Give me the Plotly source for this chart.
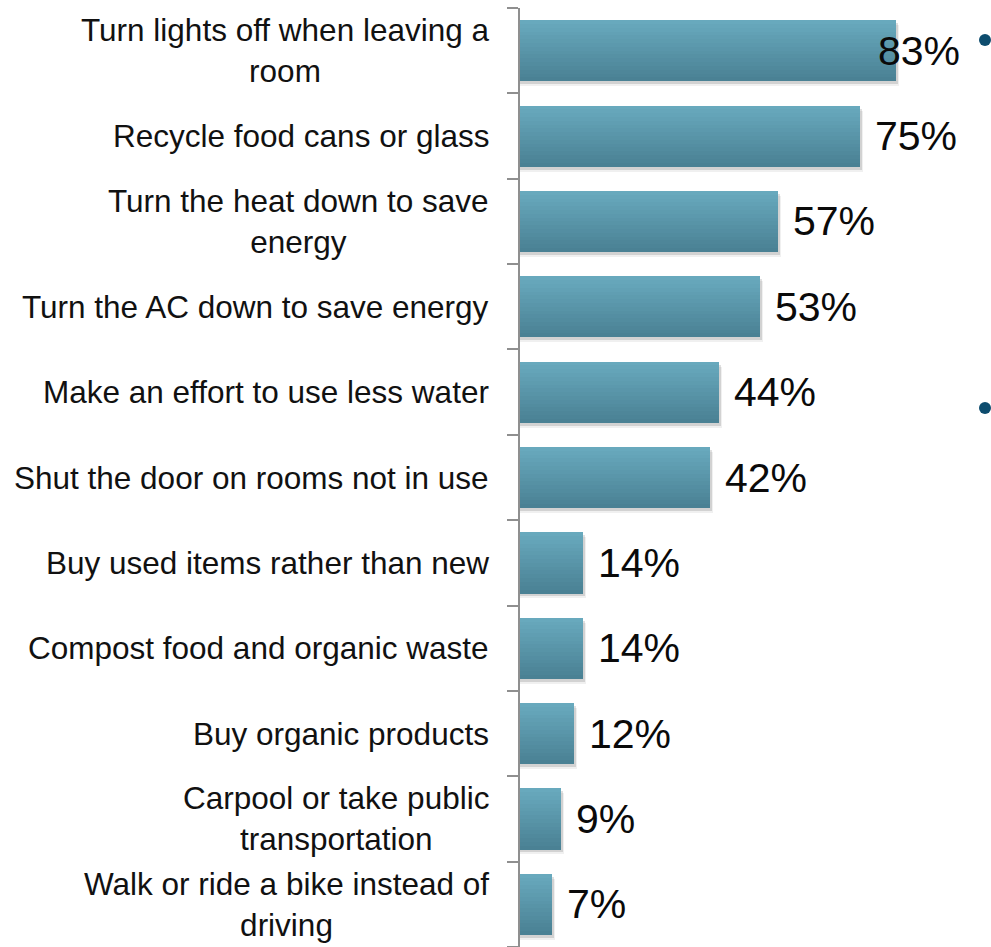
import plotly.graph_objects as go

# Survey: share of respondents doing each conservation behaviour
categories = [
    "Turn lights off when leaving a<br>room",
    "Recycle food cans or glass",
    "Turn the heat down to save<br>energy",
    "Turn the AC down to save energy",
    "Make an effort to use less water",
    "Shut the door on rooms not in use",
    "Buy used items rather than new",
    "Compost food and organic waste",
    "Buy organic products",
    "Carpool or take public<br>transportation",
    "Walk or ride a bike instead of<br>driving",
]
values = [83, 75, 57, 53, 44, 42, 14, 14, 12, 9, 7]
value_labels = [f"{v}%" for v in values]

n = len(categories)
positions = list(range(n))

FONT = "Liberation Sans, Arial, sans-serif"
BAR_WIDTH = 0.714
N_STRIPS = 16
TOP_RGB = (0x68, 0xa9, 0xbd)
BOTTOM_RGB = (0x4a, 0x81, 0x94)
LABEL_CAP = 75.8          # keeps the longest value label inside the chart area
PX_X = 100 / 453          # data units per horizontal pixel
PX_Y = 1 / 85.4           # data units per vertical pixel


def mix(a, b, t):
    return "rgb(%d,%d,%d)" % tuple(round(a[i] + (b[i] - a[i]) * t) for i in range(3))


fig = go.Figure()

# soft drop shadow under each bar
for dy, dx, alpha in [(5, 3, 0.06), (3, 2, 0.12)]:
    fig.add_trace(go.Bar(
        x=[v + dx * PX_X for v in values], y=positions, orientation="h",
        width=BAR_WIDTH, offset=-BAR_WIDTH / 2 + dy * PX_Y,
        marker=dict(color=f"rgba(0,0,0,{alpha})", line=dict(width=0)),
        hoverinfo="skip", showlegend=False,
    ))

# bars drawn as horizontal strips to give a top-to-bottom shading
strip = BAR_WIDTH / N_STRIPS
for k in range(N_STRIPS):
    fig.add_trace(go.Bar(
        x=values, y=positions, orientation="h",
        width=strip * 1.05, offset=-BAR_WIDTH / 2 + k * strip,
        marker=dict(color=mix(TOP_RGB, BOTTOM_RGB, k / (N_STRIPS - 1)), line=dict(width=0)),
        hoverinfo="skip", showlegend=False,
    ))

annotations = []
for i, (cat, v, lab) in enumerate(zip(categories, values, value_labels)):
    annotations.append(dict(
        x=0, xref="paper", y=i, yref="y", text=cat, showarrow=False,
        xanchor="right", yanchor="middle", align="center", xshift=-29,
        font=dict(family=FONT, size=31.5, color="#111111"),
    ))
    annotations.append(dict(
        x=min(v, LABEL_CAP), xref="x", y=i, yref="y", text=lab, showarrow=False,
        xanchor="left", yanchor="middle", xshift=13,
        font=dict(family=FONT, size=41, color="#0a0a0a"),
    ))

# bullet points at the slide's right edge
shapes = []
for yp in [40, 408]:
    shapes.append(dict(
        type="circle", xref="paper", yref="paper",
        xsizemode="pixel", ysizemode="pixel",
        xanchor=(985 - 520) / 453, yanchor=1 - (yp - 8) / 939,
        x0=-6, x1=6, y0=-6, y1=6,
        fillcolor="#0d4c6e", line=dict(width=0),
    ))

fig.update_layout(
    width=991, height=947,
    margin=dict(l=520, r=18, t=8, b=0),
    paper_bgcolor="white", plot_bgcolor="white",
    barmode="overlay", bargap=0,
    showlegend=False,
    annotations=annotations, shapes=shapes,
    xaxis=dict(range=[0, 100], visible=False, fixedrange=True),
    yaxis=dict(
        range=[n - 0.5, -0.5], showgrid=False, zeroline=False,
        showline=True, linecolor="#8f8f8f", linewidth=1.5,
        tickmode="array", tickvals=[i - 0.5 for i in range(n + 1)],
        ticks="outside", ticklen=11, tickcolor="#8f8f8f", tickwidth=1.5,
        showticklabels=False, fixedrange=True,
    ),
)

fig.write_html("out.html")
